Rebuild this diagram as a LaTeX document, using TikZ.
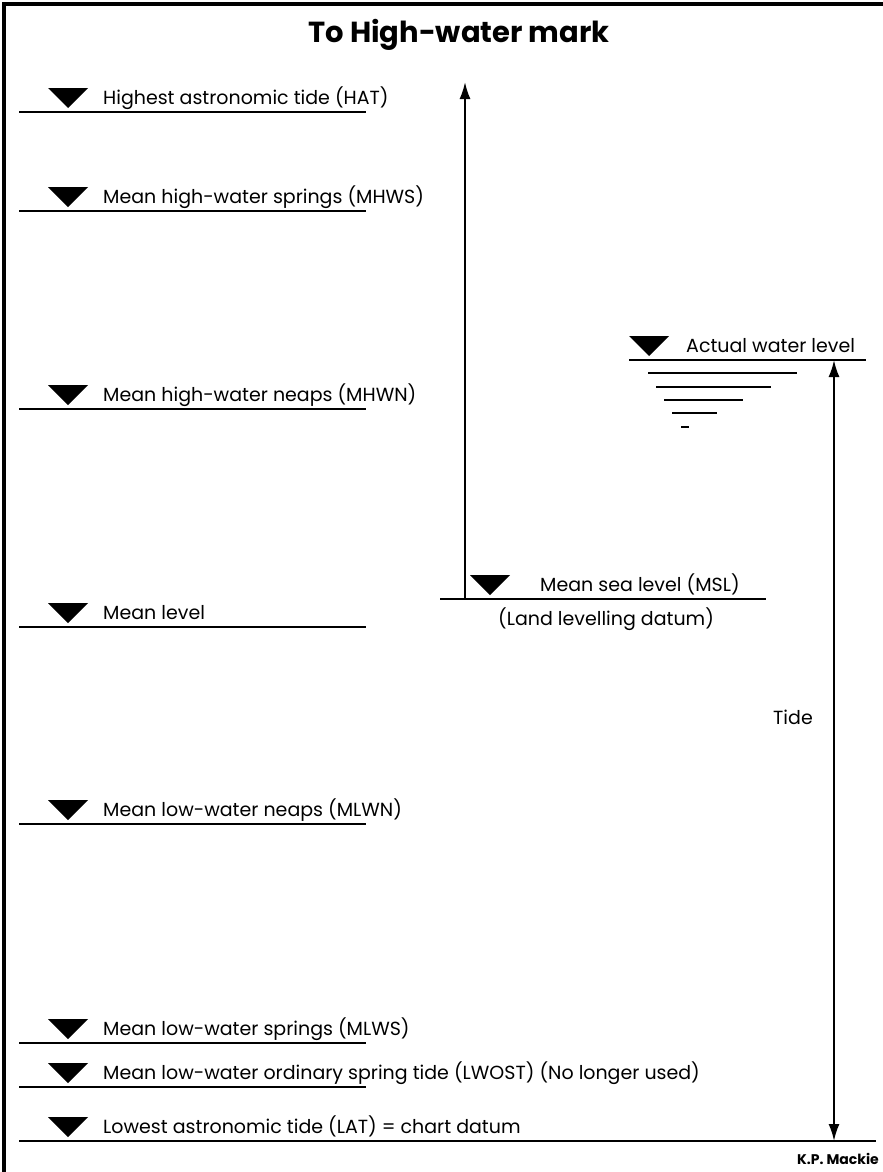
\documentclass[tikz,border=0pt]{standalone}
\usepackage{fontspec}
\setmainfont{Poppins}
\usetikzlibrary{arrows.meta}
\tikzset{
  levelline/.style={line width=2pt, line cap=butt},
  levellabel/.style={anchor=base west, inner sep=0pt, font=\fontsize{19}{22}\selectfont},
  wmark/.pic={\fill (-20,-20) -- (20,-20) -- (0,0) -- cycle;},
  heightarrow/.style={line width=2pt, -{Latex[length=17pt,width=11pt]}},
  tidearrow/.style={line width=2pt, {Latex[length=17pt,width=11pt]}-{Latex[length=17pt,width=11pt]}}
}
\begin{document}
\begin{tikzpicture}[x=1pt,y=-1pt]
\useasboundingbox (0,0) rectangle (883,1172);
% frame
\draw[line width=4pt] (883,4) -- (4,4) -- (4,1172);
\node[font=\fontsize{29}{34}\selectfont\bfseries, anchor=base, inner sep=0pt] (title) at (459,43) {To High-water mark};
% levels on the left
\foreach \nm/\yy/\xr/\txt in {hat/112/366/Highest astronomic tide (HAT),
    mhws/211/366/Mean high-water springs (MHWS),
    mhwn/409/366/Mean high-water neaps (MHWN),
    ml/627/366/Mean level,
    mlwn/824/366/Mean low-water neaps (MLWN),
    mlws/1043/366/Mean low-water springs (MLWS),
    lwost/1087/366/Mean low-water ordinary spring tide (LWOST) (No longer used),
    lat/1141/876/Lowest astronomic tide (LAT) = chart datum} {
  \coordinate (\nm-l) at (19,\yy);
  \coordinate (\nm-r) at (\xr,\yy);
  \draw[levelline] (\nm-l) -- (\nm-r);
  \pic at (68,\yy-4) {wmark};
  \node[levellabel] (\nm) at (103,\yy-8) {\txt};
}
% mean sea level
\coordinate (msl-l) at (440,599);
\coordinate (msl-r) at (766,599);
\coordinate (msl-foot) at (465,599);
\coordinate (hwm) at (465,82);
\draw[levelline] (msl-l) -- (msl-r);
\pic at (490,595) {wmark};
\node[levellabel] (msl) at (540,591) {Mean sea level (MSL)};
\node[levellabel] (lld) at (498,625) {(Land levelling datum)};
\draw[heightarrow] (msl-foot) -- (hwm);
% actual water level
\coordinate (awl-l) at (629,360);
\coordinate (awl-r) at (866,360);
\draw[levelline] (awl-l) -- (awl-r);
\pic at (649,356) {wmark};
\node[levellabel] (awl) at (686,352) {Actual water level};
\foreach \yy/\xa/\xb in {373/648/797, 387/656/771, 400/664/743, 413/672/717, 427/681/689}
  \draw[levelline] (\xa,\yy) -- (\xb,\yy);
% tide
\coordinate (tide-top) at (834,360);
\coordinate (tide-bot) at (834,1141);
\draw[tidearrow] (tide-top) -- (tide-bot);
\node[levellabel] (tide) at (773,724) {Tide};
\node[font=\fontsize{14}{16}\selectfont\bfseries, anchor=base east, inner sep=0pt] (author) at (879,1164) {K.P. Mackie};
\end{tikzpicture}
\end{document}
